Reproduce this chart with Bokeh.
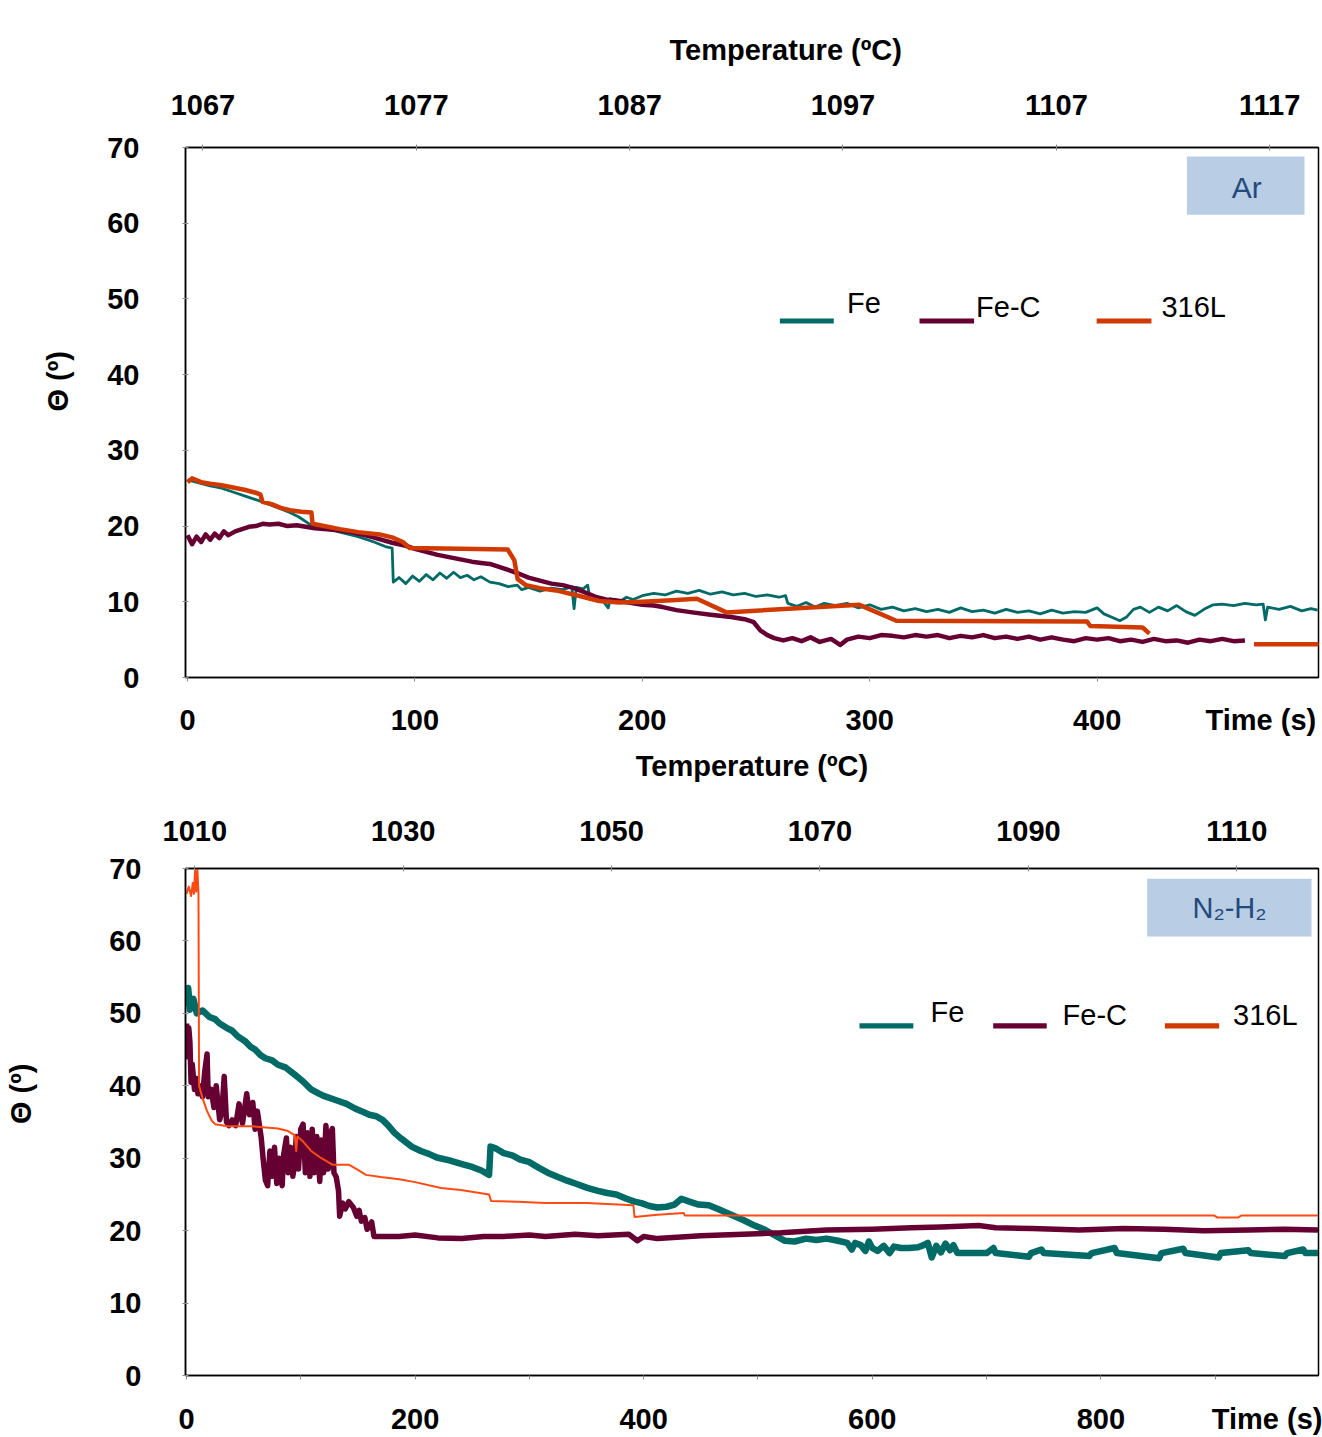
from bokeh.plotting import figure
from bokeh.models import (Range1d, LinearAxis, FixedTicker, Label, BoxAnnotation,
                          ColumnDataSource, Title)
from bokeh.layouts import column
from bokeh.embed import file_html
from bokeh.resources import INLINE

NAN = float("nan")

# ---------------- Ar panel data ----------------
ar_fe_t = [0, 5, 10, 15, 20, 27, 33, 40, 45, 49, 54, 60, 67, 75, 82, 87, 90, 90.5, 93, 96, 99, 102, 105,
           108, 111, 114, 117, 120, 123, 126, 129, 133, 137, 141, 145, 147, 150, 155, 160, 165, 169, 170,
           171, 174, 176, 177, 180, 183, 185, 186, 190, 193, 196, 200, 205, 210, 215, 220, 225, 230, 235,
           240, 245, 250, 255, 260, 263, 264, 268, 272, 276, 280, 285, 290, 295, 300, 305, 310, 315, 320,
           325, 330, 335, 340, 345, 350, 355, 360, 365, 370, 375, 380, 385, 390, 395, 400, 403, 407, 410,
           413, 416, 419, 423, 427, 431, 435, 439, 443, 447, 451, 455, 460, 465, 470, 473, 474, 475, 480,
           485, 490, 494, 497]
ar_fe_v = [26.1, 25.7, 25.3, 25.0, 24.5, 23.8, 23.2, 22.4, 21.8, 21.2, 20.2, 19.8, 19.2, 18.6, 17.9, 17.3,
           17.1, 12.6, 13.2, 12.4, 13.4, 12.7, 13.6, 12.9, 13.8, 13.1, 13.9, 13.2, 13.5, 12.9, 13.3, 12.6,
           12.4, 12.0, 12.2, 11.6, 11.9, 11.4, 11.8, 11.6, 12.0, 9.1, 11.9, 11.7, 12.2, 10.3, 10.5, 10.0,
           9.2, 10.4, 10.0, 10.6, 10.3, 10.8, 11.1, 10.9, 11.4, 11.1, 11.5, 11.0, 11.3, 10.9, 11.1, 10.7,
           10.9, 10.6, 10.8, 9.8, 9.4, 9.9, 9.3, 9.8, 9.5, 9.8, 9.2, 9.6, 9.0, 9.3, 8.8, 9.1, 8.7, 9.0, 8.6,
           9.2, 8.7, 8.9, 8.5, 9.0, 8.6, 8.8, 8.4, 8.9, 8.5, 8.7, 8.6, 9.2, 8.4, 7.9, 7.5, 8.0, 9.0, 9.3,
           8.6, 9.3, 8.8, 9.5, 8.7, 8.2, 9.0, 9.6, 9.7, 9.5, 9.8, 9.6, 9.7, 7.6, 9.3, 9.0, 9.4, 8.8, 9.1, 8.9]

ar_fec_t = [0, 2, 4, 6, 8, 10, 12, 14, 16, 18, 21, 24, 27, 30, 33, 36, 40, 44, 48, 52, 56, 60, 64, 67, 72,
            78, 84, 90, 96, 100, 105, 110, 115, 120, 125, 130, 133, 137, 141, 145, 150, 155, 160, 165, 170,
            175, 180, 184, 188, 192, 196, 200, 205, 209, 215, 222, 230, 239, 245, 249, 252, 255, 258, 262,
            266, 270, 274, 278, 283, 287, 290, 295, 300, 305, 310, 315, 320, 325, 330, 335, 340, 345, 350,
            355, 360, 365, 370, 375, 380, 385, 390, 395, 400, 405, 410, 415, 420, 425, 430, 435, 440, 445,
            450, 455, 460, 465]
ar_fec_v = [18.8, 17.6, 18.6, 17.9, 18.9, 18.2, 19.0, 18.4, 19.3, 18.8, 19.3, 19.6, 19.9, 20.0, 20.3, 20.2,
            20.3, 20.0, 20.1, 19.9, 19.7, 19.6, 19.5, 19.4, 19.2, 18.8, 18.3, 17.8, 17.4, 17.0, 16.6, 16.2,
            15.9, 15.6, 15.3, 15.1, 15.0, 14.6, 14.2, 13.8, 13.2, 12.8, 12.4, 12.2, 11.8, 11.2, 10.6, 10.3,
            10.2, 10.0, 9.8, 9.6, 9.5, 9.3, 8.9, 8.6, 8.3, 8.0, 7.7, 7.3, 6.2, 5.6, 5.2, 4.9, 5.2, 4.8, 5.3,
            4.7, 5.1, 4.3, 5.0, 5.4, 5.2, 5.6, 5.5, 5.3, 5.6, 5.4, 5.6, 5.2, 5.5, 5.3, 5.6, 5.2, 5.4, 5.1,
            5.4, 5.0, 5.3, 5.0, 4.8, 5.2, 5.0, 5.2, 4.8, 5.0, 4.7, 5.1, 4.8, 4.9, 4.6, 5.0, 4.8, 5.1, 4.8, 4.9]

ar_316_t = [0, 2, 6, 10, 15, 20, 25, 30, 32, 33, 37, 41, 45, 50, 54.5, 55, 60, 67, 75, 84.5, 90, 94.7,
            97.7, 120, 140.8, 143.7, 145.2, 148.8, 155, 162, 172, 181, 190, 200, 213, 224, 237, 295.5,
            311.7, 395.5, 397, 420, 423, 446, 469, 498]
ar_316_v = [25.8, 26.3, 25.8, 25.6, 25.4, 25.1, 24.8, 24.4, 24.2, 23.2, 22.9, 22.4, 22.1, 21.9, 21.8, 20.3,
            20.0, 19.6, 19.2, 18.9, 18.5, 17.9, 17.1, 17.0, 16.9, 15.5, 13.0, 12.2, 11.8, 11.5, 10.8, 10.1,
            9.9, 10.0, 10.2, 10.4, 8.6, 9.6, 7.5, 7.4, 6.8, 6.6, 5.8, NAN, 4.4, 4.4]

# ---------------- N2-H2 panel data ----------------
nh_fe_t = [0, 1.5, 3, 6, 9, 14, 20, 25, 29, 35, 40, 45, 51, 56, 60, 65, 69, 75, 80, 87, 95, 102, 109, 115,
           120, 131, 140, 147, 153, 160, 166, 171.5, 176, 182, 188, 197, 205, 212, 219, 230, 241, 250, 258,
           264.7, 266, 270, 277.5, 285, 292, 299.5, 308, 316, 325, 333, 342, 350.6, 360, 368, 376, 385, 392,
           398, 405, 412, 420, 427, 433, 440, 448, 457, 465, 472, 479.5, 488, 497, 505, 514, 523.6, 532, 542,
           551, 560, 570, 578, 582, 585, 590, 594, 597, 600, 604.6, 610, 615, 619, 625, 632, 640, 645, 648.6,
           652, 656, 660, 664, 668, 671, 674.5, 700, 706, 708, 737, 739, 748, 750, 790, 792, 812, 814, 851,
           853, 872, 874, 903, 905, 929, 931, 961, 963, 977, 979, 990]
nh_fe_v = [51.0, 53.5, 50.5, 52.0, 50.0, 50.4, 49.5, 49.2, 48.6, 48.0, 47.6, 46.8, 46.2, 45.4, 45.0, 44.2,
           43.8, 43.5, 42.9, 42.5, 41.5, 40.6, 39.5, 39.0, 38.6, 38.0, 37.5, 36.9, 36.5, 36.0, 35.8, 35.3,
           34.6, 33.5, 32.7, 31.6, 31.0, 30.6, 30.1, 29.7, 29.2, 28.8, 28.3, 27.7, 31.6, 31.4, 30.7, 30.4,
           29.8, 29.5, 28.7, 28.0, 27.4, 26.9, 26.4, 25.9, 25.5, 25.2, 25.0, 24.4, 24.0, 23.8, 23.4, 23.2,
           23.3, 23.6, 24.4, 24.0, 23.6, 23.5, 23.0, 22.5, 22.0, 21.4, 20.7, 20.2, 19.4, 18.6, 18.5, 18.9,
           18.7, 18.9, 18.6, 18.3, 17.4, 18.3, 18.0, 17.2, 18.5, 17.6, 17.2, 17.9, 16.9, 17.8, 17.6, 17.6,
           17.7, 18.0, 18.3, 16.3, 17.9, 17.0, 18.2, 17.3, 18.0, 16.9, 16.9, 17.6, 16.9, 16.4, 16.9, 17.4,
           16.9, 16.5, 16.9, 17.6, 16.9, 16.2, 16.9, 17.5, 16.9, 16.3, 16.9, 17.3, 16.9, 16.5, 16.9, 17.4,
           16.9, 16.9]

nh_fec_t = [0, 1, 2, 3, 4, 5, 7, 9, 10, 12, 14, 16, 18, 19, 21.6, 24, 26, 29, 31, 33, 35, 37, 40, 43, 46,
            49, 52.7, 55, 58, 60, 62, 65.4, 67, 69, 71, 73, 75, 77, 79, 81, 83.7, 85, 87.4, 89, 91, 93, 94.7,
            96, 98, 100, 102, 104, 106, 108, 110, 112, 114, 116.6, 118, 120, 122, 124, 126, 127.6, 129, 131,
            133, 134, 136.7, 139, 142, 146, 149, 151, 153, 156, 158, 160.5, 162, 164, 175, 186, 200, 220,
            241, 260, 277.5, 300, 314, 340, 360, 387, 394.5, 400, 412, 450, 487, 520, 560, 600, 634, 660,
            693, 708, 740, 781, 820, 855, 890, 929, 960, 990]
nh_fec_v = [48.6, 44.0, 48.0, 46.0, 40.5, 43.0, 39.5, 41.0, 38.9, 40.0, 38.5, 42.0, 44.4, 38.5, 39.5, 37.0,
            40.0, 35.3, 36.5, 41.3, 35.0, 34.5, 35.3, 34.5, 37.5, 34.8, 38.9, 36.0, 37.7, 34.0, 36.5, 32.8,
            30.0, 27.0, 26.2, 31.0, 27.5, 31.5, 26.5, 30.0, 26.2, 30.5, 32.8, 28.0, 31.5, 27.5, 29.2, 33.0,
            28.5, 34.0, 34.7, 28.0, 33.5, 27.5, 34.0, 28.0, 33.0, 26.8, 32.5, 28.0, 34.5, 28.5, 33.5, 34.1,
            28.0, 27.4, 25.5, 22.0, 23.8, 23.0, 24.0, 23.2, 22.0, 22.8, 21.3, 21.8, 20.2, 20.7, 21.2, 19.2,
            19.2, 19.2, 19.4, 19.0, 18.9, 19.2, 19.2, 19.4, 19.2, 19.5, 19.3, 19.5, 18.6, 19.2, 18.9, 19.3,
            19.5, 19.7, 20.1, 20.2, 20.4, 20.5, 20.7, 20.4, 20.3, 20.1, 20.3, 20.2, 20.0, 20.1, 20.2, 20.1]

nh_316_t = [0, 2, 4, 5.5, 6.5, 7.5, 8.5, 9.5, 10.5, 11, 14, 18, 22, 25, 36, 58, 80, 88, 94.7, 96, 97, 102,
            109, 118, 127.6, 142, 150, 157, 170, 186, 200, 222.7, 240, 264.7, 266.5, 290, 314, 350, 391, 392,
            412, 435, 436, 500, 600, 700, 800, 899, 902, 920, 923, 990]
nh_316_v = [66.5, 67.5, 66.2, 68.0, 66.5, 69.8, 66.8, 70.0, 66.5, 40.0, 38.3, 36.5, 35.2, 34.7, 34.4, 34.4,
            34.1, 33.8, 33.2, 31.0, 33.0, 32.3, 31.0, 30.0, 29.1, 29.1, 28.4, 27.7, 27.4, 27.1, 26.7, 25.9,
            25.6, 25.0, 24.1, 24.0, 23.8, 23.8, 23.5, 21.9, 22.2, 22.45, 22.1, 22.1, 22.1, 22.1, 22.1, 22.1,
            21.8, 21.8, 22.1, 22.1]

series_names = ["Fe", "Fe-C", "316L"]
y_ticks = [0, 10, 20, 30, 40, 50, 60, 70]
ar_time_ticks = [0, 100, 200, 300, 400]
ar_time_title_at = 472
ar_temp_ticks = [1067, 1077, 1087, 1097, 1107, 1117]
nh_time_ticks = [0, 100, 200, 300, 400, 500, 600, 700, 800, 900]
nh_time_labels = {100: "", 300: "", 500: "", 700: "", 900: ""}
nh_time_title_at = 990
nh_temp_ticks = [1010, 1030, 1050, 1070, 1090, 1110]

C_FE = "#006A66"
C_FEC = "#660033"
C_316 = "#D03A00"
C_316_THIN = "#FF4A14"
C_BOX = "#B9CDE5"
C_BOXTXT = "#234A7C"
FONT = "Liberation Sans"
TS = "29px"
NBSP = "\u00a0"


def style_axis(ax, standoff, tick_out=4, tick_in=0, use_minor=False):
    ax.major_label_text_font = FONT
    ax.major_label_text_font_style = "bold"
    ax.major_label_text_font_size = TS
    ax.major_label_text_color = "black"
    ax.major_label_standoff = standoff
    ax.axis_line_color = "black"
    ax.axis_line_width = 1.5
    if use_minor:
        ax.major_tick_line_color = None
        ax.major_tick_out = 0
        ax.major_tick_in = 0
        ax.minor_tick_line_color = "#8a8a8a"
        ax.minor_tick_out = tick_out
        ax.minor_tick_in = tick_in
    else:
        ax.major_tick_line_color = "#8a8a8a"
        ax.major_tick_out = tick_out
        ax.major_tick_in = tick_in
        ax.minor_tick_line_color = None
    ax.axis_label_text_font = FONT
    ax.axis_label_text_font_style = "bold"
    ax.axis_label_text_font_size = TS
    ax.axis_label_text_color = "black"


def legend_entry(p, t0, t1, v0, v1, color, tx, ty, name):
    p.add_layout(BoxAnnotation(left=t0, right=t1, bottom=v0, top=v1, fill_color=color,
                               fill_alpha=1.0, line_color=None))
    p.add_layout(Label(x=tx, y=ty, text=name, text_font=FONT, text_font_size=TS,
                       text_align="left", text_baseline="alphabetic", text_color="black"))


def bold_title(text, offset, standoff):
    return Title(text=text, align="left", offset=offset, standoff=standoff, text_font=FONT,
                 text_font_size=TS, text_font_style="bold", text_color="black")


# ================= Top panel (Ar) =================
p1 = figure(width=1322, height=740, x_range=Range1d(-0.877, 497.36), y_range=Range1d(0, 70),
            output_backend="svg", toolbar_location=None, min_border_left=182, min_border_right=4,
            min_border_top=147, min_border_bottom=63)
p1.title.visible = False
p1.grid.visible = False
p1.outline_line_color = "black"
p1.outline_line_width = 1.5
p1.background_fill_color = "white"
p1.border_fill_color = "white"

p1.xaxis.ticker = FixedTicker(ticks=ar_time_ticks + [ar_time_title_at], minor_ticks=ar_time_ticks)
p1.xaxis.major_label_overrides = {ar_time_title_at: "Time (s)"}
style_axis(p1.xaxis[0], 22, use_minor=True)
p1.yaxis.ticker = FixedTicker(ticks=y_ticks)
style_axis(p1.yaxis[0], 43, tick_out=3, tick_in=3)

p1.extra_x_ranges = {"temp": Range1d(1066.18, 1066.18 + 1136 / 21.39)}
ax_top1 = LinearAxis(x_range_name="temp", ticker=FixedTicker(ticks=ar_temp_ticks))
style_axis(ax_top1, 30, tick_out=3, tick_in=3)
p1.add_layout(ax_top1, "above")
p1.add_layout(bold_title("Temperature (ºC)", 484, 51), "above")
p1.add_layout(bold_title("Θ (º)", 266, 61), "left")

src = ColumnDataSource(dict(t=ar_fe_t, v=ar_fe_v))
p1.line("t", "v", source=src, color=C_FE, line_width=2.8, line_join="round")
src = ColumnDataSource(dict(t=ar_fec_t, v=ar_fec_v))
p1.line("t", "v", source=src, color=C_FEC, line_width=4.5, line_join="round")
src = ColumnDataSource(dict(t=ar_316_t, v=ar_316_v))
p1.line("t", "v", source=src, color=C_316, line_width=4.5, line_join="round")

legend_entry(p1, 260.5, 284.2, 46.76, 47.42, C_FE, 290.0, 49.47, series_names[0])
legend_entry(p1, 321.9, 345.9, 46.76, 47.42, C_FEC, 346.8, 48.97, series_names[1])
legend_entry(p1, 399.8, 423.9, 46.76, 47.42, C_316, 428.3, 48.97, series_names[2])

p1.add_layout(BoxAnnotation(left=439.5, right=491.2, bottom=61.11, top=68.82, fill_color=C_BOX,
                            fill_alpha=1.0, line_color=None))
p1.add_layout(Label(x=465.8, y=64.75, text="Ar", text_font=FONT, text_font_size="30px",
                    text_align="center", text_baseline="alphabetic", text_color=C_BOXTXT))

# ================= Bottom panel (N2-H2) =================
p2 = figure(width=1322, height=697, x_range=Range1d(-0.87, 990.4), y_range=Range1d(0, 70),
            output_backend="svg", toolbar_location=None, min_border_left=185, min_border_right=0,
            min_border_top=128, min_border_bottom=56)
p2.title.visible = False
p2.grid.visible = False
p2.outline_line_color = "black"
p2.outline_line_width = 1.5
p2.background_fill_color = "white"
p2.border_fill_color = "white"

p2.xaxis.ticker = FixedTicker(ticks=nh_time_ticks + [nh_time_title_at], minor_ticks=nh_time_ticks)
overrides = dict(nh_time_labels)
overrides[nh_time_title_at] = "Time (s)"
p2.xaxis.major_label_overrides = overrides
style_axis(p2.xaxis[0], 23, use_minor=True)
p2.yaxis.ticker = FixedTicker(ticks=y_ticks)
style_axis(p2.yaxis[0], 41, tick_out=3, tick_in=3)
p2.yaxis.axis_label = NBSP * 7 + "Θ (º)"
p2.yaxis.axis_label_standoff = 69

p2.extra_x_ranges = {"temp": Range1d(1009.11, 1009.11 + 1137 / 10.457)}
ax_top2 = LinearAxis(x_range_name="temp", ticker=FixedTicker(ticks=nh_temp_ticks),
                     axis_label="Temperature (ºC)")
style_axis(ax_top2, 25, tick_out=3, tick_in=3)
ax_top2.axis_label_standoff = 36
p2.add_layout(ax_top2, "above")

src = ColumnDataSource(dict(t=nh_fe_t, v=nh_fe_v))
p2.line("t", "v", source=src, color=C_FE, line_width=6.5, line_join="round")
src = ColumnDataSource(dict(t=nh_fec_t, v=nh_fec_v))
p2.line("t", "v", source=src, color=C_FEC, line_width=5.5, line_join="round")
src = ColumnDataSource(dict(t=nh_316_t, v=nh_316_v))
p2.line("t", "v", source=src, color=C_316_THIN, line_width=2, line_join="round")

legend_entry(p2, 588.8, 635.9, 47.9, 48.65, C_FE, 651.0, 50.21, series_names[0])
legend_entry(p2, 705.8, 752.6, 47.9, 48.65, C_FEC, 766.5, 49.76, series_names[1])
legend_entry(p2, 856.0, 903.5, 47.9, 48.65, C_316, 915.6, 49.76, series_names[2])

p2.add_layout(BoxAnnotation(left=840.5, right=984.3, bottom=60.6, top=68.58, fill_color=C_BOX,
                            fill_alpha=1.0, line_color=None))
p2.add_layout(Label(x=912.5, y=64.57, text="N₂-H₂", text_font=FONT, text_font_size="29px",
                    text_align="center", text_baseline="alphabetic", text_color=C_BOXTXT))

layout = column(p1, p2, spacing=0)
open("out.html", "w").write(file_html(layout, INLINE))
